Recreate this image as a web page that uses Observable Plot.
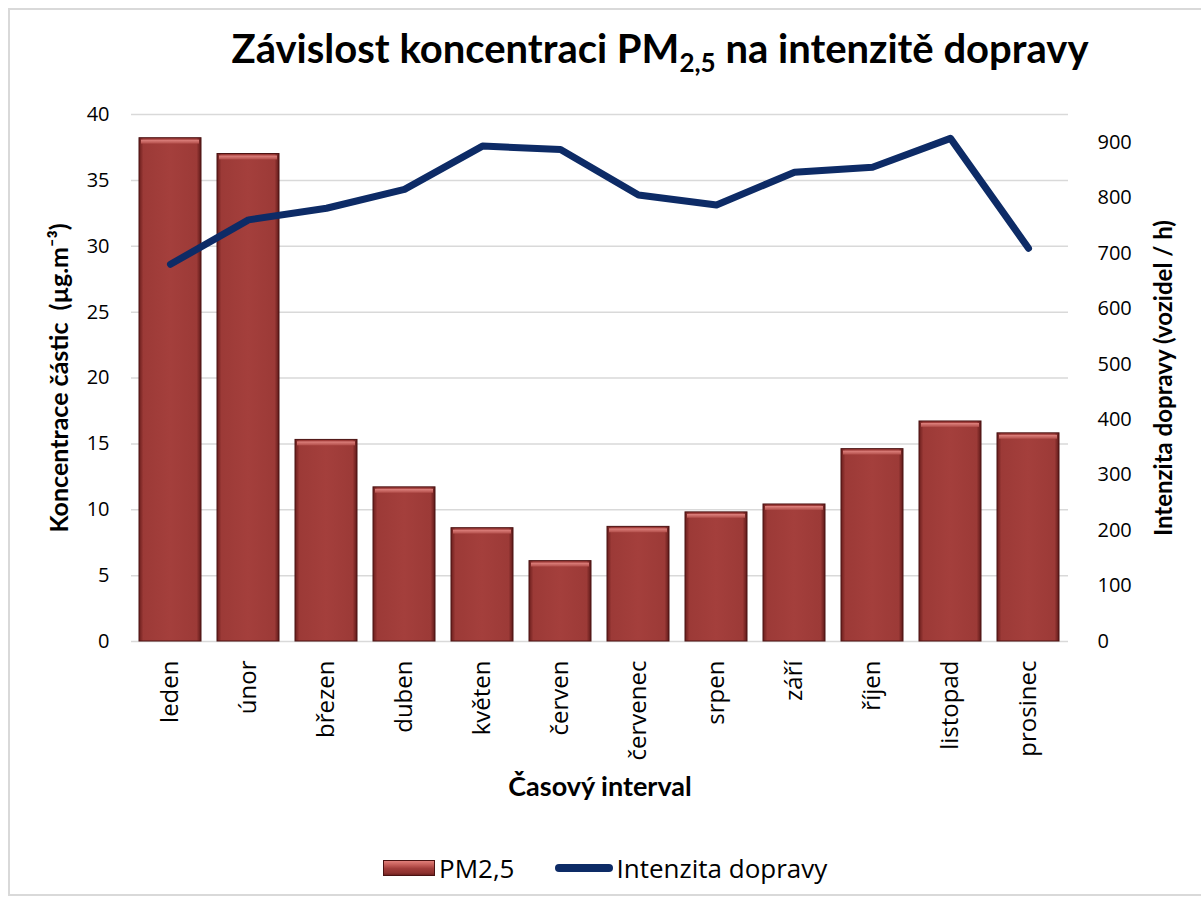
<!DOCTYPE html>
<html>
<head>
<meta charset="utf-8">
<script src="https://cdn.jsdelivr.net/npm/d3@7"></script>
<script src="https://cdn.jsdelivr.net/npm/@observablehq/plot@0.6"></script>
<style>
  html, body { margin: 0; padding: 0; background: #fff; }
  body { width: 1201px; height: 908px; position: relative; overflow: hidden; font-family: Lato, "Open Sans", sans-serif; }
  #frame { position: absolute; left: 8px; top: 8px; width: 1200px; height: 888px; border: 2px solid #d9d9d9; box-sizing: border-box; }
  #title { position: absolute; left: 0; width: 1320px; top: 24px; text-align: center; font-weight: bold; font-size: 40px; color: #000; white-space: nowrap; }
  #title sub { font-size: 26px; vertical-align: -9px; line-height: 0; }
  #chart { position: absolute; left: 0; top: 100px; }
  #legend { position: absolute; top: 850px; left: 383px; font-family: "Open Sans", sans-serif; font-size: 26px; color: #000; display: flex; align-items: center; white-space: nowrap; }
  .sw-bar { width: 52px; height: 16px; background: linear-gradient(to bottom, #e07f7a 0%, #c25a56 30%, #a03c3a 55%, #8e3230 85%, #6e201f 100%); border: 1px solid #4a1212; box-sizing: border-box; margin-right: 4px; }
  .sw-line { width: 58px; height: 8px; border-radius: 4px; background: #0d2b66; margin-left: 40px; margin-right: 4px; }
</style>
</head>
<body>
<div id="frame"></div>
<div id="title">Závislost koncentraci PM<sub>2,5</sub> na intenzitě dopravy</div>
<div id="chart"></div>
<div id="legend"><div class="sw-bar"></div><span>PM2,5</span><div class="sw-line"></div><span>Intenzita dopravy</span></div>
<script>
const months = ["leden", "únor", "březen", "duben", "květen", "červen", "červenec", "srpen", "září", "říjen", "listopad", "prosinec"];
const pm25 = [38.2, 37.0, 15.3, 11.7, 8.6, 6.1, 8.7, 9.8, 10.4, 14.6, 16.7, 15.8];
const traffic = [680, 760, 781, 815, 893, 887, 805, 787, 846, 855, 907, 709];
const leftTicks = [0, 5, 10, 15, 20, 25, 30, 35, 40];
const rightTicks = [0, 100, 200, 300, 400, 500, 600, 700, 800, 900];
const leftMax = 40;
const rightMax = 950;
const leftLabel = "Koncentrace částic  (µg.m⁻³)";
const rightLabel = "Intenzita dopravy (vozidel / h)";
const xLabel = "Časový interval";

const k = leftMax / rightMax;
const data = months.map((m, i) => ({month: m, pm: pm25[i], traffic: traffic[i]}));
const tickFont = "'Open Sans', sans-serif";

const svg = Plot.plot({
  width: 1201,
  height: 720,
  marginTop: 14,
  marginBottom: 179,
  marginLeft: 131,
  marginRight: 133,
  style: {fontFamily: "'Open Sans', sans-serif", fontSize: "20px", color: "#000", background: "transparent", overflow: "visible"},
  x: {domain: months, paddingInner: 0.2, paddingOuter: 0.1, label: null, axis: null},
  y: {domain: [0, leftMax], label: null},
  marks: [
    Plot.gridY(leftTicks, {stroke: "#d9d9d9", strokeOpacity: 1, strokeWidth: 1.5}),
    Plot.axisY(leftTicks, {anchor: "left", tickSize: 0, tickPadding: 22, fontSize: 20, label: null}),
    Plot.axisY(rightTicks.map(v => v * k), {anchor: "right", tickSize: 0, tickPadding: 29, fontSize: 20, tickFormat: d => Math.round(d / k), textAnchor: "start", label: null}),
    Plot.text(months, {x: d => d, frameAnchor: "bottom", dy: 19, rotate: -90, textAnchor: "end", lineAnchor: "middle", fontSize: 24, fontFamily: tickFont, fill: "#000"}),
    Plot.barY(data, {x: "month", y: "pm", fill: "url(#barGrad)", stroke: "#4a1212", strokeWidth: 1}),
    Plot.barY(data, {x: "month", y1: d => d.pm - 0.6, y2: "pm", fill: "url(#topGrad)", inset: 2}),
    Plot.lineY(data, {x: "month", y: d => d.traffic * k, stroke: "#0d2b66", strokeWidth: 7, strokeLinecap: "round", strokeLinejoin: "round"}),
    Plot.text([leftLabel], {frameAnchor: "left", textAnchor: "middle", dx: -72, rotate: -90, fontWeight: "bold", fontSize: 25, fontFamily: "Lato, sans-serif", fill: "#000"}),
    Plot.text([rightLabel], {frameAnchor: "right", textAnchor: "middle", dx: 96, rotate: -90, fontWeight: "bold", fontSize: 24, fontFamily: "Lato, sans-serif", fill: "#000"}),
    Plot.text([xLabel], {frameAnchor: "bottom", textAnchor: "middle", dy: 154, fontWeight: "bold", fontSize: 27, fontFamily: "Lato, sans-serif", fill: "#000"})
  ]
});

const defs = d3.select(svg).insert("defs", ":first-child");
const g = defs.append("linearGradient").attr("id", "barGrad").attr("x1", "0").attr("x2", "1").attr("y1", "0").attr("y2", "0");
[["0%", "#6a1d1c"], ["7%", "#9c3a37"], ["50%", "#a43f3c"], ["93%", "#9c3a37"], ["100%", "#5e1918"]].forEach(([o, c]) => g.append("stop").attr("offset", o).attr("stop-color", c));
const t = defs.append("linearGradient").attr("id", "topGrad").attr("x1", "0").attr("x2", "0").attr("y1", "0").attr("y2", "1");
[["0%", "#e08480"], ["100%", "#b24e4a"]].forEach(([o, c]) => t.append("stop").attr("offset", o).attr("stop-color", c));

document.getElementById("chart").appendChild(svg);
</script>
</body>
</html>
